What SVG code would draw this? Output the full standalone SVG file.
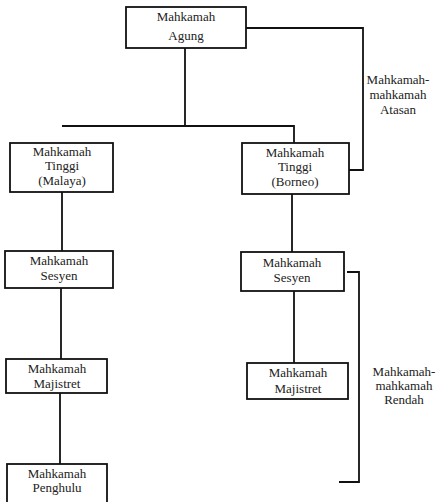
<svg xmlns="http://www.w3.org/2000/svg" width="441" height="502" viewBox="0 0 441 502">
<style>
rect{fill:#fff;stroke:#111;stroke-width:1.8}
.c{fill:none;stroke:#111;stroke-width:1.8}
text{font-family:"Liberation Serif","Times New Roman",serif;font-size:13px;fill:#222;text-anchor:middle;dominant-baseline:middle}
</style>
<rect x="0" y="0" width="441" height="502" style="fill:#fff;stroke:none"/>
<g id="connectors">
<path class="c" d="M185 48V126M62 126H294V143M62 192V251M61 288V359M60 393V464M292 194V252M294 291V363"/>
<path class="c" d="M246 28H363V170H349"/>
<path class="c" d="M347 272H359V482H339"/>
</g>
<g id="agung"><rect x="126" y="7" width="120" height="41"/><text x="186" y="18">Mahkamah</text><text x="186" y="37">Agung</text></g>
<g id="tinggi-malaya"><rect x="10" y="143" width="103" height="49"/><text x="62" y="153">Mahkamah</text><text x="62" y="167">Tinggi</text><text x="62" y="182">(Malaya)</text></g>
<g id="tinggi-borneo"><rect x="242" y="143" width="107" height="51"/><text x="295" y="154">Mahkamah</text><text x="295" y="168">Tinggi</text><text x="295" y="183">(Borneo)</text></g>
<g id="sesyen-l"><rect x="5" y="251" width="108" height="37"/><text x="59" y="262">Mahkamah</text><text x="59" y="277">Sesyen</text></g>
<g id="sesyen-r"><rect x="241" y="252" width="103" height="39"/><text x="292" y="264">Mahkamah</text><text x="292" y="279">Sesyen</text></g>
<g id="majistret-l"><rect x="6" y="359" width="101" height="34"/><text x="57" y="370">Mahkamah</text><text x="57" y="385">Majistret</text></g>
<g id="majistret-r"><rect x="247" y="363" width="101" height="36"/><text x="298" y="374">Mahkamah</text><text x="298" y="390">Majistret</text></g>
<g id="penghulu"><rect x="7" y="464" width="100" height="45"/><text x="57" y="475">Mahkamah</text><text x="57" y="489">Penghulu</text></g>
<g id="label-atasan"><text x="398" y="81">Mahkamah-</text><text x="398" y="96">mahkamah</text><text x="398" y="111">Atasan</text></g>
<g id="label-rendah"><text x="404" y="373">Mahkamah-</text><text x="404" y="387">mahkamah</text><text x="404" y="401">Rendah</text></g>
</svg>
